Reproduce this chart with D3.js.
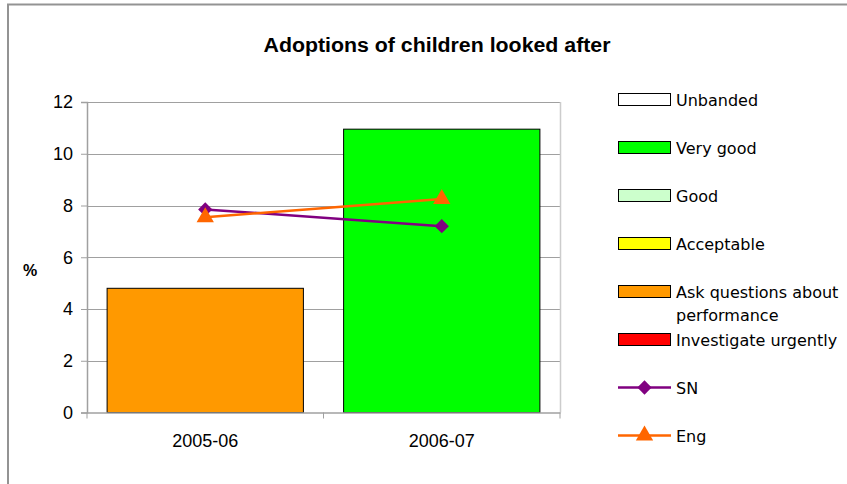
<!DOCTYPE html>
<meta charset="utf-8">
<style>
  body { margin: 0; background: #fff; }
  svg { display: block; }
  .tick text { font-family: "Liberation Sans", Arial, sans-serif; font-size: 18px; fill: #000; }
  .legend text { font-family: "DejaVu Sans", Tahoma, sans-serif; font-size: 16px; fill: #000; }
</style>
<svg width="847" height="484"></svg>
<script src="https://d3js.org/d3.v7.min.js"></script>
<script>
  // data
  var years = ["2005-06", "2006-07"];
  var barValues = [4.8, 10.95];
  var barBands = ["Ask questions about performance", "Very good"];
  var snValues = [7.85, 7.2];
  var engValues = [7.55, 8.25];
  var yTicks = [0, 2, 4, 6, 8, 10, 12];

  var bandNames = ["Unbanded", "Very good", "Good", "Acceptable", "Ask questions about performance", "Investigate urgently"];
  var bandColors = ["#ffffff", "#00ff00", "#ccffcc", "#ffff00", "#ff9900", "#ff0000"];
  var snColor = "#800080", engColor = "#ff6600";

  var svg = d3.select("svg");

  // outer chart frame (runs off the right / bottom of the picture)
  svg.append("rect")
    .attr("x", 8).attr("y", 4.5)
    .attr("width", 900).attr("height", 600)
    .attr("fill", "none").attr("stroke", "#939393").attr("stroke-width", 2);

  svg.append("text")
    .attr("x", 437).attr("y", 52)
    .attr("text-anchor", "middle")
    .attr("textLength", 347).attr("lengthAdjust", "spacingAndGlyphs")
    .style("font-family", "'Liberation Sans', Arial, sans-serif")
    .style("font-weight", "bold").style("font-size", "20px")
    .text("Adoptions of children looked after");

  var plotLeft = 87, plotRight = 560, plotTop = 102, plotBottom = 412.5;

  var x = d3.scaleBand().domain(years).range([plotLeft, plotRight]).paddingInner(0.17).paddingOuter(0.085);
  var xc = d3.scaleBand().domain(years).range([plotLeft, plotRight]);
  var y = d3.scaleLinear().domain([0, 12]).range([plotBottom, plotTop]);

  // gridlines
  svg.append("g").selectAll("line").data(yTicks.filter(function (d) { return d > 0; }))
    .join("line")
    .attr("x1", plotLeft).attr("x2", plotRight)
    .attr("y1", function (d) { return Math.round(y(d)) + 0.5; })
    .attr("y2", function (d) { return Math.round(y(d)) + 0.5; })
    .attr("stroke", "#a0a0a0");

  // right edge of plot area
  svg.append("line")
    .attr("x1", plotRight + 0.5).attr("x2", plotRight + 0.5)
    .attr("y1", plotTop).attr("y2", plotBottom)
    .attr("stroke", "#cccccc").attr("stroke-width", 1.5);

  // bars
  svg.append("g").selectAll("rect").data(years)
    .join("rect")
    .attr("x", function (d) { return x(d); })
    .attr("width", x.bandwidth())
    .attr("y", function (d, i) { return y(barValues[i]); })
    .attr("height", function (d, i) { return y(0) - y(barValues[i]); })
    .attr("fill", function (d, i) { return bandColors[bandNames.indexOf(barBands[i])]; })
    .attr("stroke", "#000").attr("stroke-width", 1);

  // axes
  var yAxis = svg.append("g")
    .attr("transform", "translate(" + plotLeft + ",0)")
    .call(d3.axisLeft(y).tickValues(yTicks).tickSize(6).tickPadding(8));
  var xAxis = svg.append("g")
    .attr("transform", "translate(0," + plotBottom + ")")
    .call(d3.axisBottom(xc).tickSize(0).tickPadding(22));
  // category boundary ticks
  svg.append("g").selectAll("line").data([plotLeft, xc(years[1]), plotRight])
    .join("line")
    .attr("x1", function (d) { return d; }).attr("x2", function (d) { return d; })
    .attr("y1", plotBottom).attr("y2", plotBottom + 6)
    .attr("stroke", "#a0a0a0");
  [yAxis, xAxis].forEach(function (a) {
    a.select(".domain").attr("stroke", "#a0a0a0").attr("stroke-width", 1.5);
    a.selectAll(".tick line").attr("stroke", "#a0a0a0");
  });

  svg.append("text")
    .attr("x", 30).attr("y", 276)
    .attr("text-anchor", "middle")
    .style("font-family", "'Liberation Sans', Arial, sans-serif")
    .style("font-weight", "bold").style("font-size", "16px")
    .text("%");

  // lines
  var cx = function (d, i) { return xc(years[i]) + xc.bandwidth() / 2; };
  var line = d3.line().x(function (d, i) { return cx(d, i); }).y(function (d) { return y(d); });

  svg.append("path").datum(snValues)
    .attr("d", line).attr("fill", "none").attr("stroke", snColor).attr("stroke-width", 2.5);
  svg.append("path").datum(engValues)
    .attr("d", line).attr("fill", "none").attr("stroke", engColor).attr("stroke-width", 2.5);

  var diamond = d3.symbol().type(d3.symbolDiamond2).size(130);
  var triangle = d3.symbol().type(d3.symbolTriangle).size(130);

  svg.append("g").selectAll("path").data(snValues)
    .join("path")
    .attr("transform", function (d, i) { return "translate(" + cx(d, i) + "," + y(d) + ")"; })
    .attr("d", diamond).attr("fill", snColor);
  svg.append("g").selectAll("path").data(engValues)
    .join("path")
    .attr("transform", function (d, i) { return "translate(" + cx(d, i) + "," + y(d) + ")"; })
    .attr("d", triangle).attr("fill", engColor);

  // legend
  var legend = svg.append("g").attr("class", "legend");
  var rowY = function (i) { return 99.5 + i * 48; };
  bandNames.forEach(function (name, i) {
    var g = legend.append("g").attr("transform", "translate(0," + rowY(i) + ")");
    g.append("rect")
      .attr("x", 618.5).attr("y", -6).attr("width", 52).attr("height", 12)
      .attr("fill", bandColors[i]).attr("stroke", "#000").attr("stroke-width", 1);
    var t = g.append("text").attr("x", 676).attr("y", 6);
    if (name === "Ask questions about performance") {
      t.append("tspan").attr("x", 676).text("Ask questions about");
      t.append("tspan").attr("x", 676).attr("dy", 23).text("performance");
    } else {
      t.text(name);
    }
  });

  [["SN", snColor, diamond], ["Eng", engColor, triangle]].forEach(function (s, j) {
    var g = legend.append("g").attr("transform", "translate(0," + rowY(6 + j) + ")");
    g.append("line").attr("x1", 618).attr("x2", 671).attr("stroke", s[1]).attr("stroke-width", 2.5);
    g.append("path").attr("d", s[2]).attr("fill", s[1])
      .attr("transform", "translate(644.5,0)");
    g.append("text").attr("x", 676).attr("y", 6).text(s[0]);
  });
</script>
